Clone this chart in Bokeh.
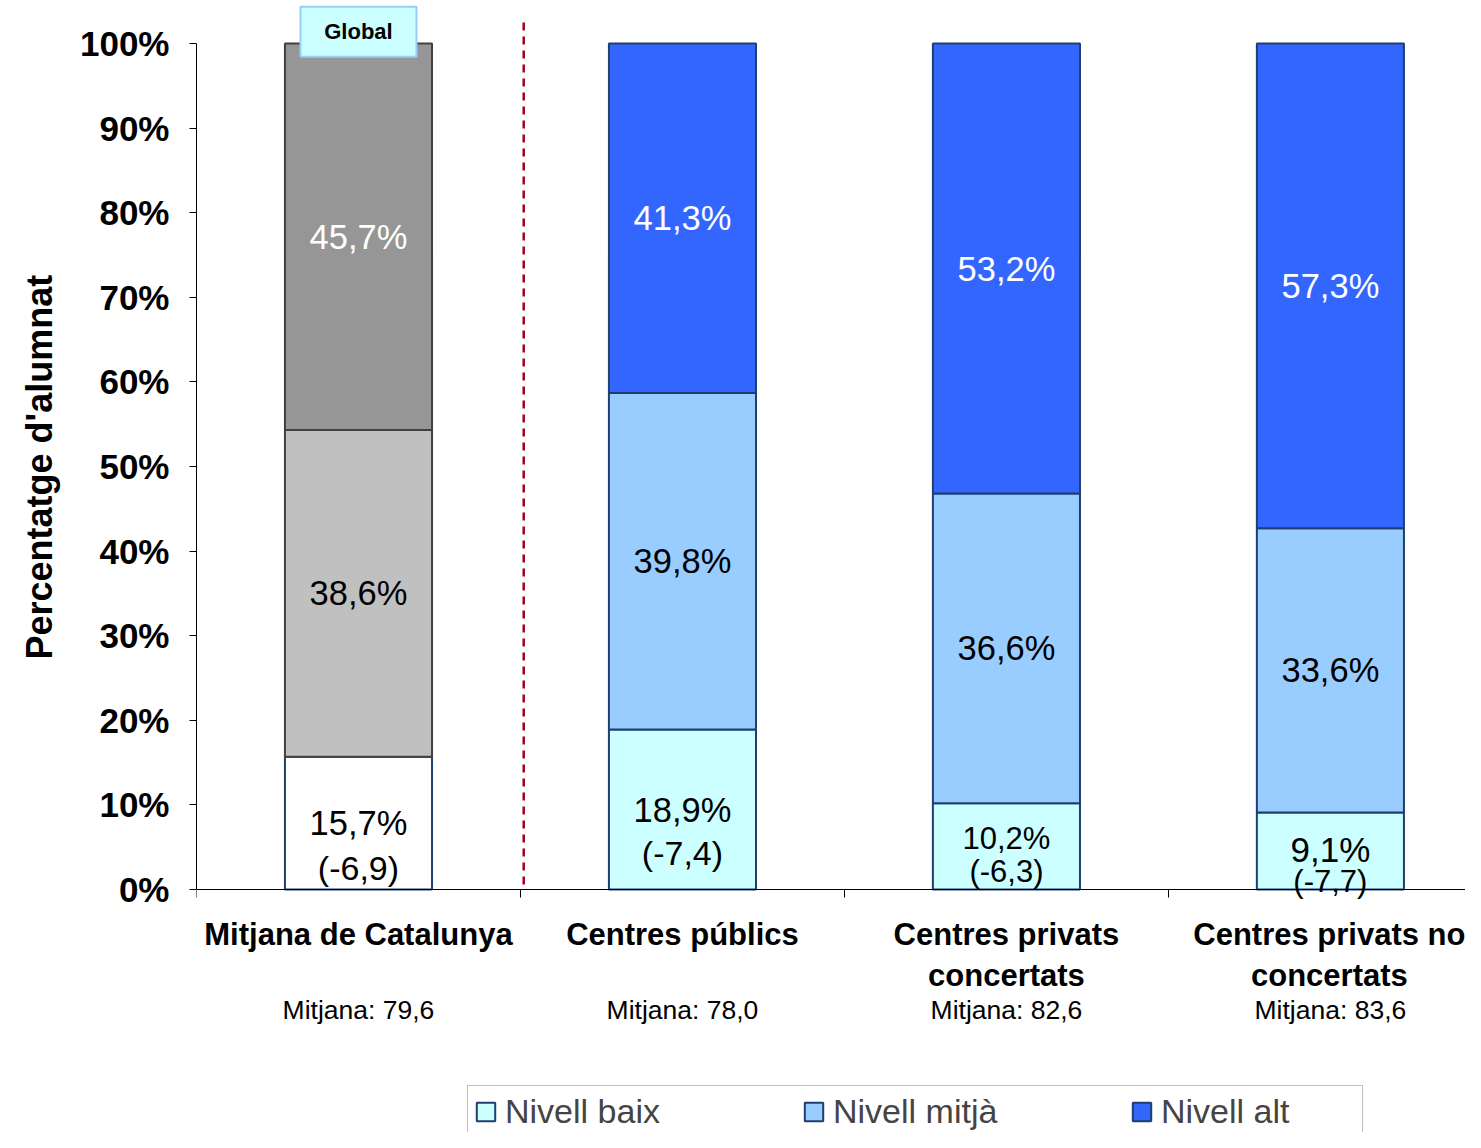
from bokeh.plotting import figure
from bokeh.models import (Range1d, FixedTicker, LinearAxis, Legend, LegendItem,
                          ColumnDataSource, Title)
from bokeh.core.properties import value
from bokeh.embed import file_html
from bokeh.resources import INLINE

# ---------------- data ----------------
categories = ["Mitjana de Catalunya", "Centres públics",
              "Centres privats\nconcertats", "Centres privats no\nconcertats"]
means = ["Mitjana: 79,6", "Mitjana: 78,0", "Mitjana: 82,6", "Mitjana: 83,6"]
baix = [15.7, 18.9, 10.2, 9.1]
mitja = [38.6, 39.8, 36.6, 33.6]
alt = [45.7, 41.3, 53.2, 57.3]
baix_diff = ["(-6,9)", "(-7,4)", "(-6,3)", "(-7,7)"]
y_ticks = [0, 10, 20, 30, 40, 50, 60, 70, 80, 90, 100]
legend_labels = ["Nivell baix", "Nivell mitjà", "Nivell alt"]
y_title = "Percentatge d'alumnat"

# ---------------- styles ----------------
FONT = "Liberation Sans"
BLUE = ["#CCFFFF", "#99CCFF", "#3366FF"]
GRAY = ["#FFFFFF", "#C0C0C0", "#969696"]
GRAY_EDGE = ["#1F3F6F", "#404040", "#404040"]
EDGE = "#1F3F6F"
BAR_W = 0.454
line1_off = [0, 0, -8, -2]
line2_off = [45, 43, 25, 30]
small_size = ["34.5px", "34.5px", "31px", "35px"]
small_size2 = ["34px", "34px", "31px", "31px"]

def fmt(v):
    return ("%.1f%%" % v).replace(".", ",")

n = len(categories)
xs = [i + 0.5 for i in range(n)]
b0 = [0.0] * n
b1 = [baix[i] for i in range(n)]
b2 = [baix[i] + mitja[i] for i in range(n)]
b3 = [baix[i] + mitja[i] + alt[i] for i in range(n)]

p = figure(width=1465, height=1132, output_backend="svg", toolbar_location=None,
           x_range=Range1d(0, 3.917), y_range=Range1d(-28.72, 105.08),
           min_border_left=196, min_border_right=0, min_border_top=0,
           min_border_bottom=0, x_axis_type=None, y_axis_type=None)
p.xgrid.visible = False
p.ygrid.visible = False
p.outline_line_color = None
p.background_fill_color = "white"
p.border_fill_color = "white"

# ---------------- y axis ----------------
yax = LinearAxis(ticker=FixedTicker(ticks=y_ticks),
                 major_label_overrides={t: "%d%%" % t for t in y_ticks})
yax.bounds = (0, 100)
yax.axis_line_color = "#000000"
yax.major_tick_line_color = "#000000"
yax.major_tick_out = 7
yax.major_tick_in = 0
yax.minor_tick_line_color = None
yax.major_label_text_font = FONT
yax.major_label_text_font_style = "bold"
yax.major_label_text_font_size = "35px"
yax.major_label_text_color = "black"
yax.major_label_standoff = 20
p.add_layout(yax, "left")

ytitle = Title(text=y_title, align="left", offset=473, standoff=30,
               vertical_align="top")
ytitle.text_font = FONT
ytitle.text_font_style = "bold"
ytitle.text_font_size = "36px"
ytitle.text_color = "black"
p.add_layout(ytitle, "left")

# ---------------- x axes (at y = 0) ----------------
xax = LinearAxis(ticker=FixedTicker(ticks=xs, minor_ticks=[0, 1, 2, 3]),
                 major_label_overrides={xs[i]: categories[i] for i in range(n)})
xax.fixed_location = 0
xax.axis_line_color = "#000000"
xax.major_tick_line_color = None
xax.major_tick_out = 0
xax.major_tick_in = 0
xax.minor_tick_line_color = "#000000"
xax.minor_tick_out = 8
xax.minor_tick_in = 0
xax.major_label_text_font = FONT
xax.major_label_text_font_style = "bold"
xax.major_label_text_font_size = "31px"
xax.major_label_text_color = "black"
xax.major_label_text_line_height = 1.18
xax.major_label_standoff = 19
p.add_layout(xax, "below")

xax2 = LinearAxis(ticker=FixedTicker(ticks=xs),
                  major_label_overrides={xs[i]: means[i] for i in range(n)})
xax2.fixed_location = 0
xax2.axis_line_color = None
xax2.major_tick_line_color = None
xax2.minor_tick_line_color = None
xax2.major_tick_out = 0
xax2.major_tick_in = 0
xax2.major_label_text_font = FONT
xax2.major_label_text_font_size = "26.5px"
xax2.major_label_text_color = "black"
xax2.major_label_standoff = 105
p.add_layout(xax2, "below")

# ---------------- bars ----------------
levels = [(b0, b1), (b1, b2), (b2, b3)]
blue_renderers = []
for k, (bot, top) in enumerate(levels):
    p.vbar(x=xs[:1], bottom=bot[:1], top=top[:1], width=BAR_W,
           fill_color=GRAY[k], line_color=GRAY_EDGE[k], line_width=2)
    r = p.vbar(x=xs[1:], bottom=bot[1:], top=top[1:], width=BAR_W,
               fill_color=BLUE[k], line_color=EDGE, line_width=2)
    blue_renderers.append(r)

# separator
p.segment(x0=[1.01], y0=[0.6], x1=[1.01], y1=[102.5], line_color="#A50021",
          line_width=2.5, line_dash="8 6")

# ---------------- value labels ----------------
alt_src = ColumnDataSource(dict(x=xs, y=[(b2[i] + b3[i]) / 2 for i in range(n)],
                                t=[fmt(v) for v in alt]))
p.text(x="x", y="y", text="t", source=alt_src, text_color="white",
       text_font=value(FONT), text_font_size="34.5px",
       text_align="center", text_baseline="middle")
mid_src = ColumnDataSource(dict(x=xs, y=[(b1[i] + b2[i]) / 2 for i in range(n)],
                                t=[fmt(v) for v in mitja]))
p.text(x="x", y="y", text="t", source=mid_src, text_color="black",
       text_font=value(FONT), text_font_size="34.5px",
       text_align="center", text_baseline="middle")
low_src = ColumnDataSource(dict(x=xs, y=[(b0[i] + b1[i]) / 2 for i in range(n)],
                                t=[fmt(v) for v in baix], t2=baix_diff,
                                o1=line1_off, o2=line2_off,
                                s1=small_size, s2=small_size2))
p.text(x="x", y="y", text="t", source=low_src, text_color="black",
       text_font=value(FONT), text_font_size="s1", y_offset="o1",
       text_align="center", text_baseline="middle")
p.text(x="x", y="y", text="t2", source=low_src, text_color="black",
       text_font=value(FONT), text_font_size="s2", y_offset="o2",
       text_align="center", text_baseline="middle")

# "Global" tag
p.rect(x=xs[:1], y=[101.4], width=116, height=50, width_units="screen",
       height_units="screen", fill_color="#CCFFFF", line_color="#99CCFF",
       line_width=2)
p.text(x=xs[:1], y=[101.4], text=["Global"], text_font=value(FONT),
       text_font_style="bold", text_font_size="22px", text_color="black",
       text_align="center", text_baseline="middle")

# ---------------- legend ----------------
legend = Legend(items=[LegendItem(label=legend_labels[k], renderers=[blue_renderers[k]])
                       for k in range(3)],
                orientation="horizontal", location=(271, -6))
legend.label_text_font = FONT
legend.label_text_font_size = "34px"
legend.glyph_width = 23
legend.glyph_height = 23
legend.label_standoff = 8
legend.label_width = 195
legend.spacing = 102
legend.padding = 6
legend.margin = 0
legend.border_line_color = "#808080"
legend.border_line_width = 1
legend.background_fill_color = "white"
p.add_layout(legend, "center")

open("out.html", "w").write(file_html(p, INLINE))
